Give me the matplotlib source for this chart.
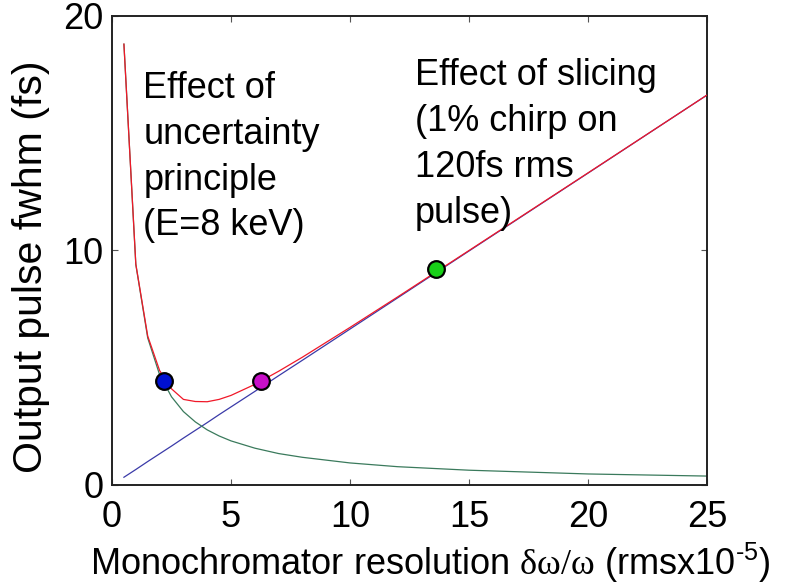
import matplotlib
matplotlib.use("Agg")
import matplotlib.pyplot as plt

# pulse-width contributions vs monochromator resolution
res = [0.5, 1.0, 1.5, 2.0, 2.5, 3.0, 3.5, 4.0, 4.5, 5.0, 6.0, 7.0, 8.0,
       10.0, 12.0, 15.0, 20.0, 25.0]
slicing = [0.33, 0.66, 1.0, 1.33, 1.66, 2.0, 2.33, 2.66, 3.0, 3.33, 3.99,
           4.66, 5.32, 6.65, 7.98, 9.98, 13.3, 16.63]
uncertainty = [18.8, 9.4, 6.27, 4.7, 3.76, 3.13, 2.69, 2.35, 2.09, 1.88,
               1.57, 1.34, 1.18, 0.94, 0.78, 0.63, 0.47, 0.38]
total = [18.8, 9.42, 6.35, 4.88, 4.1, 3.65, 3.56, 3.55, 3.65, 3.82, 4.29,
         4.85, 5.45, 6.72, 8.02, 10.0, 13.31, 16.63]

# highlighted operating points
pt_x = [2.2, 6.25, 13.6]
pt_y = [4.43, 4.43, 9.2]
pt_colors = ['#0010d0', '#c810c8', '#18d018']

plt.rcParams['font.family'] = ['Liberation Sans', 'DejaVu Sans']
plt.rcParams['mathtext.fontset'] = 'custom'
plt.rcParams['mathtext.rm'] = 'Liberation Serif'
plt.rcParams['mathtext.sf'] = 'Liberation Sans'

fig = plt.figure(figsize=(7.85, 5.88), dpi=100)
ax = fig.add_axes([0.1427, 0.1752, 0.758, 0.7976])

ax.plot(res, slicing, color='#3a3aa8', linewidth=0.9, zorder=2)
ax.plot(res, uncertainty, color='#3a7a5c', linewidth=0.9, zorder=2)
ax.plot(res, total, color='#f01828', linewidth=0.9, zorder=3)

for x, y, c in zip(pt_x, pt_y, pt_colors):
    ax.plot(x, y, 'o', markersize=12, markerfacecolor=c,
            markeredgecolor='black', markeredgewidth=1.6, zorder=4)

ax.set_xlim(0, 25)
ax.set_ylim(0, 20)
ax.set_xticks([0, 5, 10, 15, 20, 25])
ax.set_yticks([0, 10, 20])
ax.tick_params(direction='in', length=4.5, width=0.8, color='#555555',
               labelsize=26, top=True, right=True)
ax.tick_params(axis='x', pad=11)
ax.tick_params(axis='y', pad=6)
for s in ax.spines.values():
    s.set_linewidth(1.4)
    s.set_color('#222222')

ax.set_ylabel('Output pulse fwhm (fs)', fontsize=29.5)
ax.yaxis.set_label_coords(-0.105, 0.465)
ax.set_xlabel('Monochromator resolution $\\mathrm{\\delta\\omega/\\omega}$ '
              '(rmsx10$^{\\mathsf{\u20105}}$)', fontsize=26, labelpad=4,
              x=0.534)

ax.text(1.32, 17.65, 'Effect of\nuncertainty\nprinciple\n(E=8 keV)',
        fontsize=26, va='top', ha='left', linespacing=1.4)
ax.text(12.72, 18.2, 'Effect of slicing\n(1% chirp on\n120fs rms\npulse)',
        fontsize=26, va='top', ha='left', linespacing=1.4)

fig.savefig('out.png', dpi=100, facecolor='white')
